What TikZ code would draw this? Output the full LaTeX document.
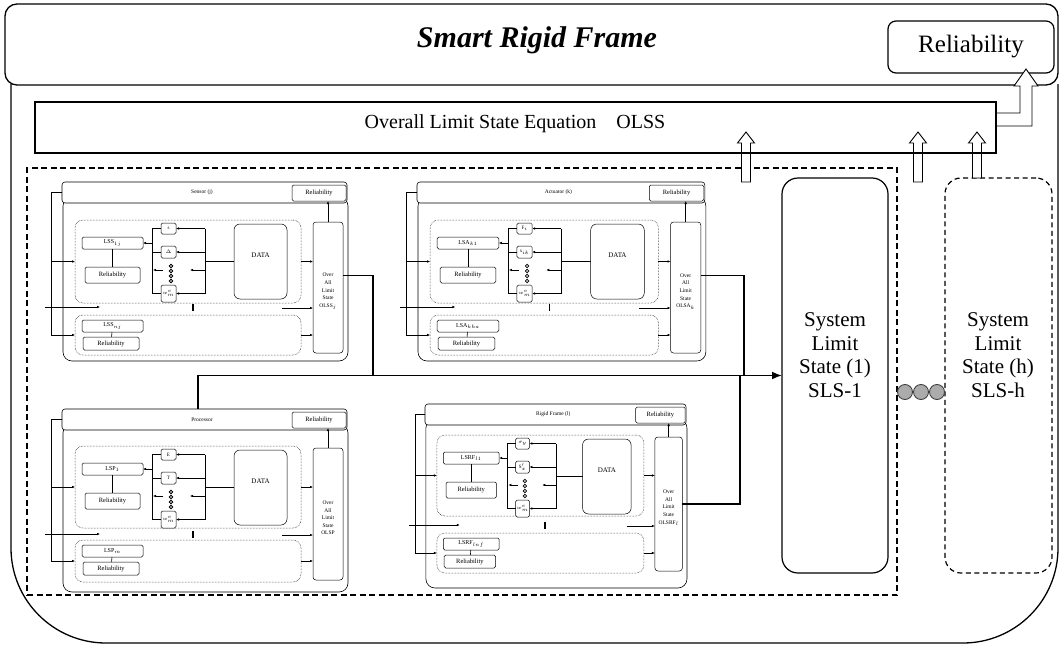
\documentclass[tikz,border=0pt]{standalone}
\usepackage{fontspec}
\setmainfont{Liberation Serif}
\usetikzlibrary{fit,arrows.meta}
\tikzset{
  ibox/.style={draw, inner sep=0pt, outer sep=0pt, line width=0.5pt},
  txt/.style={inner sep=0pt, outer sep=0pt, align=center},
  blkbody/.style={ibox, rounded corners=9pt, fill=white, line width=0.6pt},
  blkhdr/.style={ibox, rounded corners=3pt, fill=white, line width=0.6pt},
  sbox/.style={ibox, rounded corners=1.5pt, fill=white},
  dotbox/.style={ibox, densely dotted, rounded corners=8pt},
  databox/.style={ibox, rounded corners=6pt},
  olsbox/.style={ibox, rounded corners=3pt},
  hdrtxt/.style={txt, font=\fontsize{5.5}{6}\selectfont},
  lstxt/.style={txt, font=\fontsize{6}{7}\selectfont},
  reltxt/.style={txt, font=\fontsize{6.5}{7}\selectfont},
  smtxt/.style={txt, font=\fontsize{5}{6}\selectfont},
  datatxt/.style={txt, font=\fontsize{7}{8}\selectfont},
  olstxt/.style={txt, font=\fontsize{5.5}{7.6}\selectfont},
  dotc/.style={circle, draw, fill=gray!60, line width=0.6pt, minimum size=3.8pt, inner sep=0pt},
  vbar/.style={fill=black, minimum width=1.6pt, minimum height=7pt, inner sep=0pt},
  arr/.style={line width=0.6pt, -{Latex[length=3pt,width=2.6pt]}},
  ln/.style={line width=0.6pt},
  conn/.style={line width=1.7pt},
  outerln/.style={line width=1.3pt},
  harr/.style={draw, fill=white, line width=0.9pt, line join=miter},
  bigtxt/.style={txt, font=\fontsize{21}{23.5}\selectfont},
  bigdot/.style={circle, draw=black!75, fill=gray!65, line width=0.9pt, minimum size=15pt, inner sep=0pt},
}
% sub-block: #1 prefix, #2 title, #3 OLS text, #4 LS1, #5 LS2, #6 #7 #8 small box labels
\newcommand{\blk}[8]{%
  \node[blkbody, fit={(1,15)(286,\bB)}] (#1body) {};
  \node[blkhdr, fit={(0,0)(285,21)}] (#1h) {};
  \node[hdrtxt] (#1ht) at (140,10.5) {#2};
  \node[sbox, fit={(230,3)(284,19)}] (#1hr) {};
  \node[reltxt] (#1hrt) at (#1hr.center) {Reliability};
  \node[dotbox, fit={(13,\uT)(239,\uB)}] (#1up) {};
  \node[dotbox, fit={(13,\lT)(239,\lB)}] (#1lo) {};
  \node[sbox, fit={(20,\uT+17)(81,\uT+29)}] (#1ls) {};
  \node[lstxt] (#1lst) at (#1ls.center) {#4};
  \node[sbox, fit={(23,\uT+47)(78,\uT+63)}] (#1rl) {};
  \node[reltxt] (#1rlt) at (#1rl.center) {Reliability};
  \draw[ln] (#1ls) -- (#1rl);
  \node[sbox, fit={(20,\lT+5)(81,\lT+17)}] (#1lsb) {};
  \node[lstxt] (#1lsbt) at (#1lsb.center) {#5};
  \node[sbox, fit={(21,\lT+22)(77,\lT+35)}] (#1rlb) {};
  \node[reltxt] (#1rlbt) at (#1rlb.center) {Reliability};
  \draw[ln] (#1lsb) -- (#1rlb);
  \node[sbox, fit={(99,\uT+3)(114,\uT+14)}] (#1ba) {};
  \node[smtxt] (#1bat) at (#1ba.center) {#6};
  \node[sbox, fit={(99,\uT+26)(114,\uT+38)}] (#1bb) {};
  \node[smtxt] (#1bbt) at (#1bb.center) {#7};
  \node[sbox, fit={(99,\uT+65)(114,\uT+82)}] (#1bc) {};
  \node[smtxt] (#1bct) at (#1bc.center) {#8};
  \foreach \k in {46,51,56,61}{\node[dotc] (#1d\k) at (109,\uT+\k) {};}
  \coordinate (#1vl) at (90,\uT+40);
  \coordinate (#1vr) at (143,\uT+40);
  \draw[ln] (#1ba.west) -- (#1ba.west -| #1vl) -- (#1bc.west -| #1vl) -- (#1bc.west);
  \draw[ln] (#1bb.west) -- (#1bb.west -| #1vl);
  \draw[arr] (#1ls.east -| #1vl) -- (#1ls.east);
  \draw[ln] (#1ba.east -| #1vr) -- (#1bc.east -| #1vr);
  \draw[arr] (#1ba.east -| #1vr) -- (#1ba.east);
  \draw[arr] (#1bb.east -| #1vr) -- (#1bb.east);
  \draw[arr] (#1bc.east -| #1vr) -- (#1bc.east);
  \node[databox, fit={(172,\uT+4)(225,\uT+79)}] (#1data) {};
  \node[datatxt] (#1datat) at ([yshift=6pt]#1data.center) {DATA};
  \draw[ln] (#1data.west) -- (#1data.west -| #1vr);
  \coordinate (#1m0) at (143,\uT+50);
  \coordinate (#1m1) at (128,\uT+50);
  \draw[arr] (#1m0) -- (#1m1);
  \coordinate (#1m2) at (101,\uT+50);
  \coordinate (#1m3) at (91,\uT+50);
  \draw[arr] (#1m2) -- (#1m3);
  \node[olsbox, fit={(251,\uT+2)(281,\lB-2)}] (#1ols) {};
  \node[olstxt] (#1olst) at ([yshift=-4pt]#1ols.center) {#3};
  \draw[arr] (#1ols.north) -- (#1ols.north |- #1hr.south);
  \draw[arr] (#1up.east) -- (#1up.east -| #1ols.west);
  \draw[arr] (#1lo.east) -- (#1lo.east -| #1ols.west);
  \coordinate (#1ma) at (-17,\mY);
  \coordinate (#1mb) at (38,\mY);
  \draw[arr] (#1ma) -- (#1mb);
  \node[vbar] (#1dots) at (131,\mY) {};
  \coordinate (#1mc) at (220,\mY+1);
  \draw[arr] (#1mc) -- (#1mc -| #1ols.west);
  \coordinate (#1f) at (-11,10.5);
  \draw[ln] (#1h.west) -- (#1f) -- (#1f |- #1lo.west);
  \draw[arr] (#1f |- #1up.west) -- (#1up.west);
  \draw[arr] (#1f |- #1lo.west) -- (#1lo.west);
}
\newcommand{\harrow}[3]{\draw[harr] (#1-4.5,#2) -- (#1-4.5,#3+11) -- (#1-8.5,#3+11) -- (#1,#3) -- (#1+8.5,#3+11) -- (#1+4.5,#3+11) -- (#1+4.5,#2) -- cycle;}
\begin{document}
\begin{tikzpicture}[x=1pt,y=-1pt]
\useasboundingbox (0,0) rectangle (1061,645);
\fill[white] (0,0) rectangle (1061,645);
% outer frame
\draw[outerln, rounded corners=95pt] (11,84) -- (11,643) -- (1058,643) -- (1058,84);
\node[ibox, line width=1.3pt, rounded corners=12pt, fill=white, fit={(5,4)(1058,85)}] (top) {};
\node[txt, font=\fontsize{30}{32}\selectfont\bfseries\itshape] (title) at (537,40) {Smart Rigid Frame};
\node[ibox, line width=1.2pt, rounded corners=8pt, fill=white, fit={(888,21)(1054,73)}] (reltop) {};
\node[txt, font=\fontsize{25}{27}\selectfont] (reltopt) at (reltop.center) {Reliability};
% dashed group
\node[ibox, line width=1.4pt, dash pattern=on 6pt off 3.5pt, fit={(27,168)(897,595)}] (dbox) {};
% sub-blocks
\begin{scope}[shift={(62,182)}]
  \def\uT{38}\def\uB{121}\def\lT{133}\def\lB{173}\def\bB{179}\def\mY{125}
  \blk{S}{Sensor (j)}{Over\\All\\Limit\\State\\OLSS$_j$}{LSS$_{1j}$}{LSS$_{nj}$}{s}{$\Delta$}{$w^{e}_{m}$}
\end{scope}
\begin{scope}[shift={(417,182)}, x=1.01pt]
  \def\uT{38}\def\uB{121}\def\lT{133}\def\lB{173}\def\bB{179}\def\mY{125}
  \blk{A}{Actuator (k)}{Over\\All\\Limit\\State\\OLSA$_k$}{LSA$_{k1}$}{LSA$_{kha}$}{F$_i$}{x$_{ik}$}{$w^{e}_{m}$}
\end{scope}
\begin{scope}[shift={(62,409)}]
  \def\uT{37}\def\uB{119}\def\lT{131}\def\lB{173}\def\bB{183}\def\mY{125}
  \blk{P}{Processor}{Over\\All\\Limit\\State\\OLSP}{LSP$_1$}{LSP$_m$}{E}{T}{$w^{e}_{m}$}
\end{scope}
\begin{scope}[shift={(425,404)}, x=0.916pt]
  \def\uT{31}\def\uB{112}\def\lT{129}\def\lB{169}\def\bB{184}\def\mY{121}
  \blk{R}{Rigid Frame (l)}{Over\\All\\Limit\\State\\OLSRF$_l$}{LSRF$_{l1}$}{LSRF$_{lnf}$}{$\sigma_y$}{S$'_x$}{$w^{e}_{m}$}
\end{scope}
% system limit states
\node[ibox, line width=1.2pt, rounded corners=16pt, fit={(782,178)(888,573)}] (sls1) {};
\node[bigtxt] (sls1t) at (835,355) {System\\Limit\\State (1)\\SLS-1};
\node[ibox, line width=1.2pt, rounded corners=16pt, dash pattern=on 5pt off 3.5pt, fit={(945,178)(1052,573)}] (slsh) {};
\node[bigtxt] (slsht) at (998,355) {System\\Limit\\State (h)\\SLS-h};
\node[bigdot] (c1) at (905,392) {};
\node[bigdot] (c2) at (921,392) {};
\node[bigdot] (c3) at (937,392) {};
% hollow arrows up into OLSS
\harrow{746}{182}{132}
\harrow{918}{182}{132}
\harrow{977}{178}{132}
\draw[harr] (996,113) -- (1020,113) -- (1020,86) -- (1014,86) -- (1026,69) -- (1038,86) -- (1032,86) -- (1032,126) -- (996,126);
\node[ibox, line width=1.2pt, fit={(35,102)(996,153)}] (olss) {};
\node[txt, font=\fontsize{20}{22}\selectfont] (olsst) at (515,124) {Overall Limit State Equation\quad OLSS};
% connectors to SLS-1
\coordinate (j1) at (373,376);
\coordinate (j2) at (744,376);
\coordinate (j3) at (740,376);
\draw[conn] ([yshift=12pt]Sols.east) -| (j1);
\draw[conn] ([yshift=12pt]Aols.east) -| (j2);
\draw[conn] (Rols.east) -| (j3);
\draw[conn, -{Latex[length=10pt,width=8pt]}] ([xshift=-6.5pt]Ph.north) |- (sls1.west);
\end{tikzpicture}
\end{document}
